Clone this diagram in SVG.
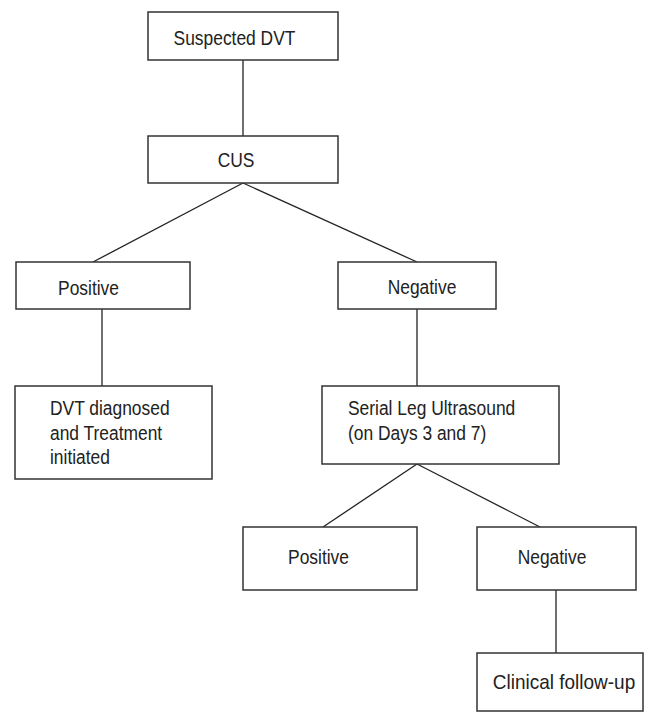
<svg xmlns="http://www.w3.org/2000/svg" width="645" height="712" viewBox="0 0 645 712">
<style>
.box{fill:#fff;stroke:#333;stroke-width:1.5}
.c line{stroke:#222;stroke-width:1.3}
text{font-family:"Liberation Sans",Arial,sans-serif;font-size:20px;fill:#222}
.m{text-anchor:middle}
</style>
<rect width="645" height="712" fill="#fff"/>
<g class="c" id="connectors">
<line x1="243" y1="60" x2="243" y2="136"/>
<line x1="243" y1="183" x2="93" y2="262"/>
<line x1="243" y1="183" x2="417" y2="262"/>
<line x1="102" y1="309" x2="102" y2="386"/>
<line x1="417" y1="309" x2="417" y2="386"/>
<line x1="417" y1="464" x2="323" y2="527"/>
<line x1="417" y1="464" x2="540" y2="527"/>
<line x1="556" y1="590" x2="556" y2="653"/>
</g>
<g id="suspected">
<rect class="box" x="148" y="12" width="190" height="48"/>
<text class="m" transform="translate(234.5,45) scale(0.87,1)">Suspected DVT</text>
</g>
<g id="cus">
<rect class="box" x="148" y="136" width="190" height="47"/>
<text class="m" transform="translate(236,167) scale(0.87,1)">CUS</text>
</g>
<g id="positive1">
<rect class="box" x="16" y="262" width="174" height="47"/>
<text class="m" transform="translate(88.5,294.5) scale(0.87,1)">Positive</text>
</g>
<g id="negative1">
<rect class="box" x="338" y="262" width="158" height="47"/>
<text class="m" transform="translate(422,294) scale(0.87,1)">Negative</text>
</g>
<g id="dvt">
<rect class="box" x="15" y="386" width="197" height="93"/>
<text transform="translate(50,415) scale(0.87,1)">DVT diagnosed</text>
<text transform="translate(50,440) scale(0.87,1)">and Treatment</text>
<text transform="translate(50,464) scale(0.87,1)">initiated</text>
</g>
<g id="serial">
<rect class="box" x="322" y="386" width="237" height="78"/>
<text transform="translate(348,415) scale(0.87,1)">Serial Leg Ultrasound</text>
<text transform="translate(348,440) scale(0.87,1)">(on Days 3 and 7)</text>
</g>
<g id="positive2">
<rect class="box" x="243" y="527" width="174" height="63"/>
<text class="m" transform="translate(318.5,564) scale(0.87,1)">Positive</text>
</g>
<g id="negative2">
<rect class="box" x="477" y="527" width="159" height="63"/>
<text class="m" transform="translate(552,564) scale(0.87,1)">Negative</text>
</g>
<g id="clinical">
<rect class="box" x="477" y="653" width="166" height="58"/>
<text class="m" transform="translate(564,689) scale(0.95,1)">Clinical follow-up</text>
</g>
</svg>
